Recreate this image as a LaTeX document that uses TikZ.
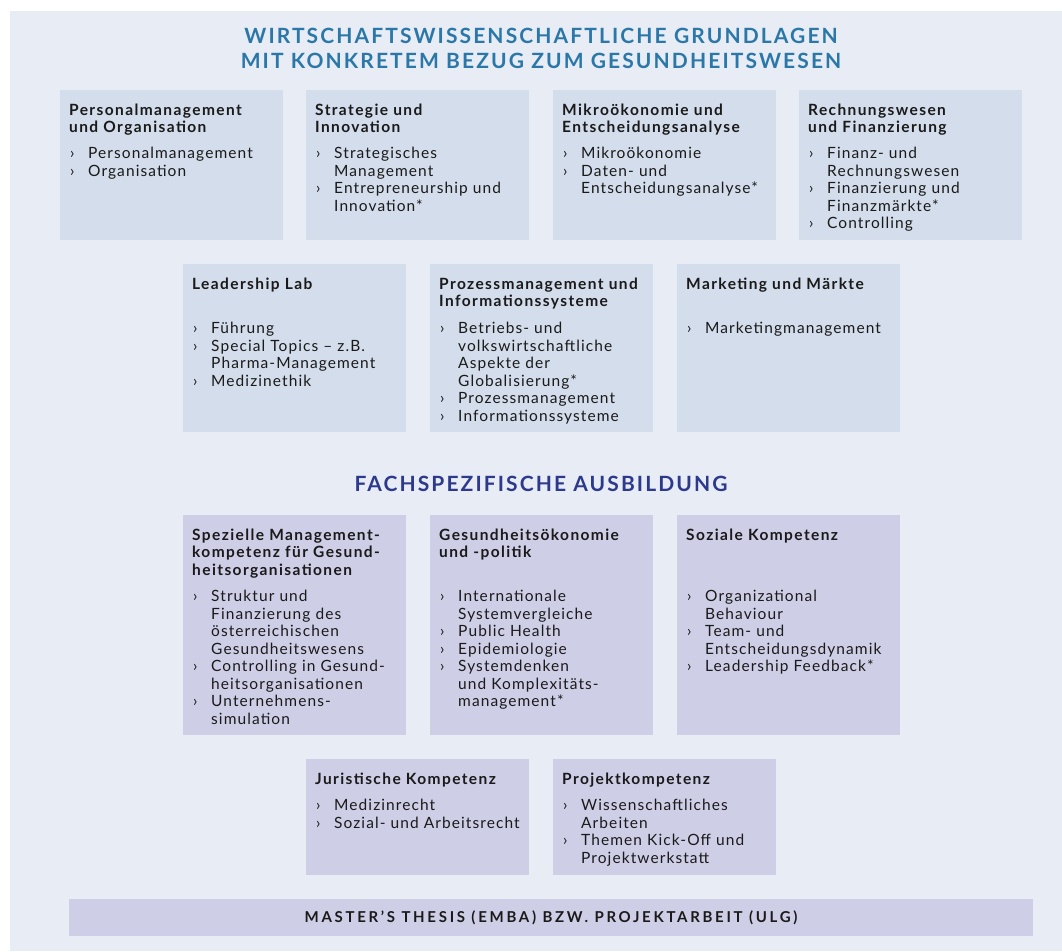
\documentclass[tikz,border=0pt]{standalone}
\usepackage{fontspec}
\setmainfont{Lato}[LetterSpace=7, BoldFeatures={LetterSpace=9}]
\newfontfamily\titelschrift{Lato}[LetterSpace=10]
\newfontfamily\balkenschrift{Lato}[LetterSpace=18]
\usetikzlibrary{positioning}
\definecolor{grund}{HTML}{E8ECF5}
\definecolor{wiwi}{HTML}{D4DDEB}
\definecolor{fach}{HTML}{CECFE7}
\definecolor{titelblau}{HTML}{2B78A8}
\definecolor{titelnavy}{HTML}{2D3A8C}
\definecolor{schrift}{HTML}{1A1A1A}
\newcommand{\pkt}{\makebox[18pt][l]{›}}
\newcommand{\ein}{\hspace*{18pt}}
\tikzset{
  kasten/.style={anchor=north west, minimum width=223pt, inner sep=0pt, outer sep=0pt},
  kopf/.style={anchor=north west, inner sep=0pt, align=left, text=schrift,
    font=\bfseries\fontsize{15.5}{17.5}\selectfont},
  punkte/.style={anchor=north west, inner sep=0pt, align=left, text=schrift,
    font=\fontsize{15.5}{17.5}\selectfont},
  ueber/.style={inner sep=0pt, align=center, font=\titelschrift\bfseries\fontsize{21}{25}\selectfont}
}
\begin{document}
\begin{tikzpicture}[x=1pt, y=-1pt]
\useasboundingbox (0,0) rectangle (1062,951);
\fill[grund] (10,11) rectangle (1062,951);

% Titel
\node[ueber, text=titelblau, anchor=north] (titel) at (541,28)
  {WIRTSCHAFTSWISSENSCHAFTLICHE GRUNDLAGEN\\MIT KONKRETEM BEZUG ZUM GESUNDHEITSWESEN};

% erste Reihe
\node[kasten, fill=wiwi, minimum height=150pt] (pom) at (60,90) {};
\node[kasten, fill=wiwi, minimum height=150pt] (sui) at (306,90) {};
\node[kasten, fill=wiwi, minimum height=150pt] (mea) at (553,90) {};
\node[kasten, fill=wiwi, minimum height=150pt] (ruf) at (799,90) {};

\node[kopf] (pomk) at ([xshift=9pt, yshift=-13.5pt]pom.north west) {Personalmanagement\\und Organisation};
\node[punkte] (pomp) at ([xshift=10pt, yshift=-57pt]pom.north west) {\pkt Personalmanagement\\\pkt Organisation};
\node[kopf] (suik) at ([xshift=9pt, yshift=-13.5pt]sui.north west) {Strategie und\\Innovation};
\node[punkte] (suip) at ([xshift=10pt, yshift=-57pt]sui.north west) {\pkt Strategisches\\\ein Management\\\pkt Entrepreneurship und\\\ein Innovation*};
\node[kopf] (meak) at ([xshift=9pt, yshift=-13.5pt]mea.north west) {Mikroökonomie und\\Entscheidungsanalyse};
\node[punkte] (meap) at ([xshift=10pt, yshift=-57pt]mea.north west) {\pkt Mikroökonomie\\\pkt Daten- und\\\ein Entscheidungsanalyse*};
\node[kopf] (rufk) at ([xshift=9pt, yshift=-13.5pt]ruf.north west) {Rechnungswesen\\und Finanzierung};
\node[punkte] (rufp) at ([xshift=10pt, yshift=-57pt]ruf.north west) {\pkt Finanz- und\\\ein Rechnungswesen\\\pkt Finanzierung und\\\ein Finanzmärkte*\\\pkt Controlling};

% zweite Reihe
\node[kasten, fill=wiwi, minimum height=168pt] (lab) at (183,264) {};
\node[kasten, fill=wiwi, minimum height=168pt] (pmi) at (430,264) {};
\node[kasten, fill=wiwi, minimum height=168pt] (mum) at (677,264) {};

\node[kopf] (labk) at ([xshift=9pt, yshift=-13.5pt]lab.north west) {Leadership Lab};
\node[punkte] (labp) at ([xshift=10pt, yshift=-58pt]lab.north west) {\pkt Führung\\\pkt Special Topics – z.B.\\\ein Pharma-Management\\\pkt Medizinethik};
\node[kopf] (pmik) at ([xshift=9pt, yshift=-13.5pt]pmi.north west) {Prozessmanagement und\\Informationssysteme};
\node[punkte] (pmip) at ([xshift=10pt, yshift=-58pt]pmi.north west) {\pkt Betriebs- und\\\ein volkswirtschaftliche\\\ein Aspekte der\\\ein Globalisierung*\\\pkt Prozessmanagement\\\pkt Informationssysteme};
\node[kopf] (mumk) at ([xshift=9pt, yshift=-13.5pt]mum.north west) {Marketing und Märkte};
\node[punkte] (mump) at ([xshift=10pt, yshift=-58pt]mum.north west) {\pkt Marketingmanagement};

% Fachspezifisch
\node[ueber, text=titelnavy] (fach) at (541,484) {FACHSPEZIFISCHE AUSBILDUNG};

% dritte Reihe
\node[kasten, fill=fach, minimum height=220pt] (smk) at (183,515) {};
\node[kasten, fill=fach, minimum height=220pt] (gep) at (430,515) {};
\node[kasten, fill=fach, minimum height=220pt] (sok) at (677,515) {};

\node[kopf] (smkk) at ([xshift=9pt, yshift=-13.5pt]smk.north west) {Spezielle Management-\\kompetenz für Gesund-\\heitsorganisationen};
\node[punkte] (smkp) at ([xshift=10pt, yshift=-75pt]smk.north west) {\pkt Struktur und\\\ein Finanzierung des\\\ein österreichischen\\\ein Gesundheitswesens\\\pkt Controlling in Gesund-\\\ein heitsorganisationen\\\pkt Unternehmens-\\\ein simulation};
\node[kopf] (gepk) at ([xshift=9pt, yshift=-13.5pt]gep.north west) {Gesundheitsökonomie\\und -politik};
\node[punkte] (gepp) at ([xshift=10pt, yshift=-75pt]gep.north west) {\pkt Internationale\\\ein Systemvergleiche\\\pkt Public Health\\\pkt Epidemiologie\\\pkt Systemdenken\\\ein und Komplexitäts-\\\ein management*};
\node[kopf] (sokk) at ([xshift=9pt, yshift=-13.5pt]sok.north west) {Soziale Kompetenz};
\node[punkte] (sokp) at ([xshift=10pt, yshift=-75pt]sok.north west) {\pkt Organizational\\\ein Behaviour\\\pkt Team- und\\\ein Entscheidungsdynamik\\\pkt Leadership Feedback*};

% vierte Reihe
\node[kasten, fill=fach, minimum height=116pt] (juk) at (306,759) {};
\node[kasten, fill=fach, minimum height=116pt] (prk) at (553,759) {};

\node[kopf] (jukk) at ([xshift=9pt, yshift=-13.5pt]juk.north west) {Juristische Kompetenz};
\node[punkte] (jukp) at ([xshift=10pt, yshift=-40pt]juk.north west) {\pkt Medizinrecht\\\pkt Sozial- und Arbeitsrecht};
\node[kopf] (prkk) at ([xshift=9pt, yshift=-13.5pt]prk.north west) {Projektkompetenz};
\node[punkte] (prkp) at ([xshift=10pt, yshift=-40pt]prk.north west) {\pkt Wissenschaftliches\\\ein Arbeiten\\\pkt Themen Kick-Off und\\\ein Projektwerkstatt};

% Abschluss
\node[kasten, fill=fach, minimum width=964pt, minimum height=37pt] (thesis) at (69,899) {};
\node[inner sep=0pt, text=schrift, font=\balkenschrift\bfseries\fontsize{15}{17}\selectfont] (thesist) at (thesis.center) {MASTER’S THESIS (EMBA) BZW. PROJEKTARBEIT (ULG)};
\end{tikzpicture}
\end{document}
